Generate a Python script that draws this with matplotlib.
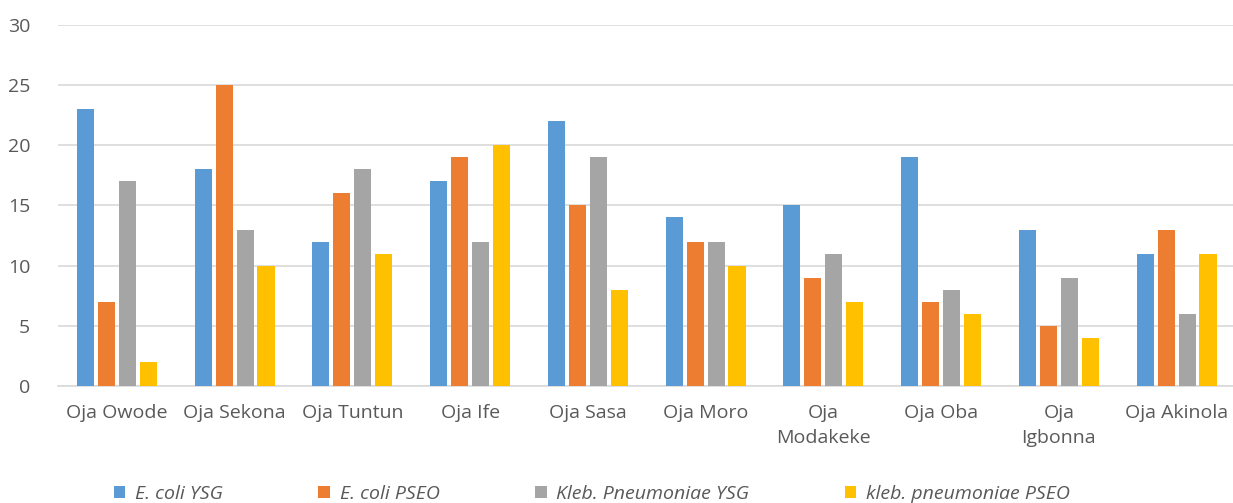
import matplotlib.pyplot as plt
import numpy as np

plt.rcParams['font.family'] = ['Open Sans', 'DejaVu Sans']

markets = ["Oja Owode", "Oja Sekona", "Oja Tuntun", "Oja Ife", "Oja Sasa",
           "Oja Moro", "Oja\nModakeke", "Oja Oba", "Oja\nIgbonna", "Oja Akinola"]
ecoli_ysg = [23, 18, 12, 17, 22, 14, 15, 19, 13, 11]
ecoli_pseo = [7, 25, 16, 19, 15, 12, 9, 7, 5, 13]
kleb_ysg = [17, 13, 18, 12, 19, 12, 11, 8, 9, 6]
kleb_pseo = [2, 10, 11, 20, 8, 10, 7, 6, 4, 11]

series = [
    ("E. coli YSG", ecoli_ysg, "#5b9bd5"),
    ("E. coli PSEO", ecoli_pseo, "#ed7d31"),
    ("Kleb. Pneumoniae YSG", kleb_ysg, "#a5a5a5"),
    ("kleb. pneumoniae PSEO", kleb_pseo, "#ffc000"),
]

fig = plt.figure(figsize=(12.33, 5.03), dpi=100)
ax = fig.add_axes([0.047, 0.233, 0.955, 0.717])

x = np.arange(len(markets))
step = 0.178
width = 0.145
for i, (label, vals, color) in enumerate(series):
    ax.bar(x + (i - 1.5) * step, vals, width, color=color, label=label, zorder=3)

ax.set_xlim(-0.5, len(markets) - 0.5)
ax.set_ylim(0, 30)
ax.set_yticks(range(0, 31, 5))
ax.set_xticks(x)
ax.set_xticklabels(markets, linespacing=1.5)
ax.yaxis.grid(True, color="#d9d9d9", linewidth=1.2, zorder=0)
for side in ["top", "right", "left"]:
    ax.spines[side].set_visible(False)
ax.spines["bottom"].set_color("#d9d9d9")
ax.spines["bottom"].set_linewidth(1.2)
ax.tick_params(axis="both", length=0, labelsize=14, colors="#595959")
ax.tick_params(axis="x", pad=13)
ax.tick_params(axis="y", pad=20)

leg = fig.legend(loc="lower center", bbox_to_anchor=(0.48, -0.035), ncol=4,
                 frameon=False, handlelength=0.6, handleheight=0.6,
                 handletextpad=0.5, columnspacing=4.9,
                 prop={"style": "italic", "size": 14})
for t in leg.get_texts():
    t.set_color("#595959")

fig.savefig("out.png", dpi=100)
